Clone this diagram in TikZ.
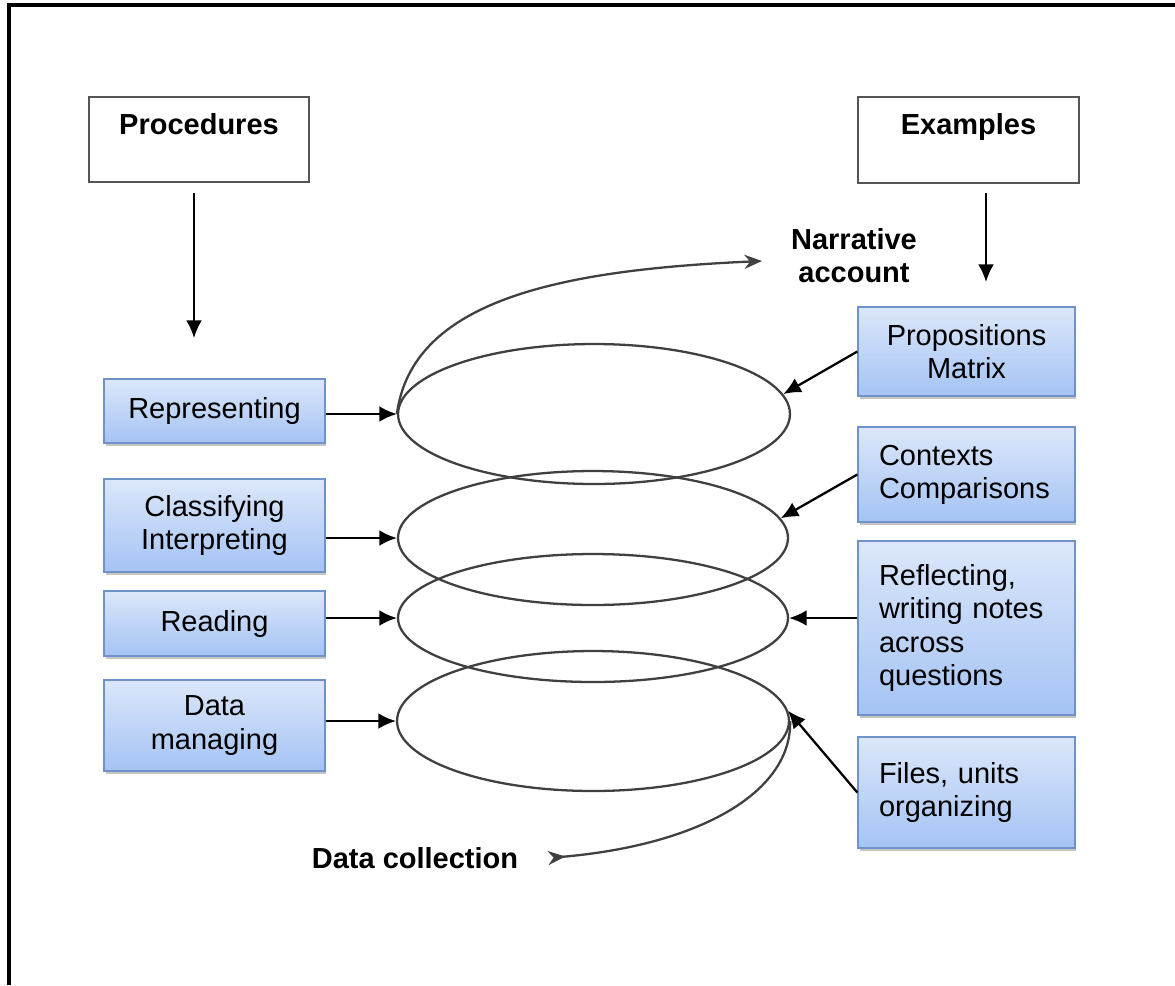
\documentclass[tikz,border=0pt]{standalone}
\usepackage{fontspec}
\setmainfont{Liberation Sans}
\usetikzlibrary{shapes.geometric,arrows.meta,shadows}
\definecolor{btop}{HTML}{DCE7FA}
\definecolor{bbot}{HTML}{A4C3F4}
\definecolor{bbord}{HTML}{6F93C6}
\definecolor{hbord}{HTML}{555555}
\begin{document}
\begin{tikzpicture}[x=0.02cm,y=-0.02cm,
  font=\fontsize{16.5}{18.8}\selectfont,
  bluebox/.style={draw=bbord, line width=0.8pt, top color=btop, bottom color=bbot,
    drop shadow={shadow xshift=0.03cm, shadow yshift=-0.06cm, fill=black!45, opacity=0.5},
    inner sep=0pt, align=center},
  lbox/.style={bluebox, minimum width=4.42cm},
  rbox/.style={bluebox, minimum width=4.34cm},
  rboxl/.style={bluebox, text width=3.5cm, inner xsep=0.42cm, align=left},
  headbox/.style={draw=hbord, line width=0.7pt, fill=white, minimum width=4.4cm,
    minimum height=1.7cm, inner sep=0pt, align=center, font=\fontsize{16.5}{18.8}\selectfont\bfseries},
  loop/.style={ellipse, draw=black!75, line width=1.3pt, inner sep=0pt},
  spiral/.style={draw=black!75, line width=1.3pt},
  arr/.style={draw=black, line width=1.3pt, -{Latex[length=10pt,width=9pt]}},
  lbl/.style={font=\fontsize{16.5}{18.8}\selectfont\bfseries, align=center, inner sep=0pt}
]
\useasboundingbox (0,0) rectangle (1175,985);
\fill[white] (0,0) rectangle (1175,985);
% partial frame
\draw[line width=0.07cm] (9,985) -- (9,5) -- (1175,5);

% header boxes
\node[headbox] (proc) at (199,139.5) {Procedures\\[-6.5pt] \strut};
\node[headbox, minimum width=4.42cm, minimum height=1.72cm] (exam) at (968.5,140) {Examples\\[-6.5pt] \strut};

\coordinate (pa0) at (194,193);
\coordinate (pa1) at (194,338);
\coordinate (ea0) at (986,193);
\coordinate (ea1) at (986,282);
\draw[arr] (pa0) -- (pa1);
\draw[arr] (ea0) -- (ea1);

% left boxes
\node[lbox, minimum height=1.28cm] (rep) at (214.5,411) {Representing};
\node[lbox, minimum height=1.86cm] (cls) at (214.5,525.5) {Classifying\\Interpreting};
\node[lbox, minimum height=1.30cm] (rea) at (214.5,623.5) {Reading};
\node[lbox, minimum height=1.82cm] (dat) at (214.5,725.5) {Data\\managing};

% right boxes
\node[rbox, minimum height=1.78cm] (pro) at (966.5,351.5) {Propositions\\Matrix};
\node[rboxl, minimum height=1.90cm] (ctx) at (966.5,474.5) {Contexts\\Comparisons};
\node[rboxl, minimum height=3.48cm] (ref) at (966.5,628) {Reflecting,\\writing notes\\across\\questions};
\node[rboxl, minimum height=2.22cm] (fil) at (966.5,792.5) {Files, units\\organizing};

% spiral loops
\node[loop, minimum width=7.84cm, minimum height=2.8cm] (e1) at (594,414) {};
\node[loop, minimum width=7.80cm, minimum height=2.68cm] (e2) at (593,538) {};
\node[loop, minimum width=7.80cm, minimum height=2.56cm] (e3) at (593,618) {};
\node[loop, minimum width=7.84cm, minimum height=2.8cm] (e4) at (593,721) {};

% tails
\coordinate (tipN) at (762,261);
\coordinate (tipS) at (548,858);
\draw[spiral, -{Stealth[length=10pt,width=8pt]}] (e1.west) .. controls (412,300) and (560,270) .. (tipN);
\draw[spiral, {Stealth[reversed,length=10pt,width=8pt]}-] (tipS) .. controls (700,845) and (792,792) .. (e4.east);

% labels
\node[lbl] (narr) at (854,256) {Narrative\\account};
\node[lbl] (dcol) at (415,858) {Data collection};

% left arrows
\draw[arr] (e1.west -| rep.east) -- (e1.west);
\draw[arr] (e2.west -| cls.east) -- (e2.west);
\draw[arr] (e3.west -| rea.east) -- (e3.west);
\draw[arr] (e4.west -| dat.east) -- (e4.west);

% right arrows
\draw[arr] (pro.west) -- (e1.6);
\draw[arr] (ctx.west) -- (e2.6);
\draw[arr] (ref.west |- e3.east) -- (e3.east);
\draw[arr] (fil.west) -- (e4.3);
\end{tikzpicture}
\end{document}
